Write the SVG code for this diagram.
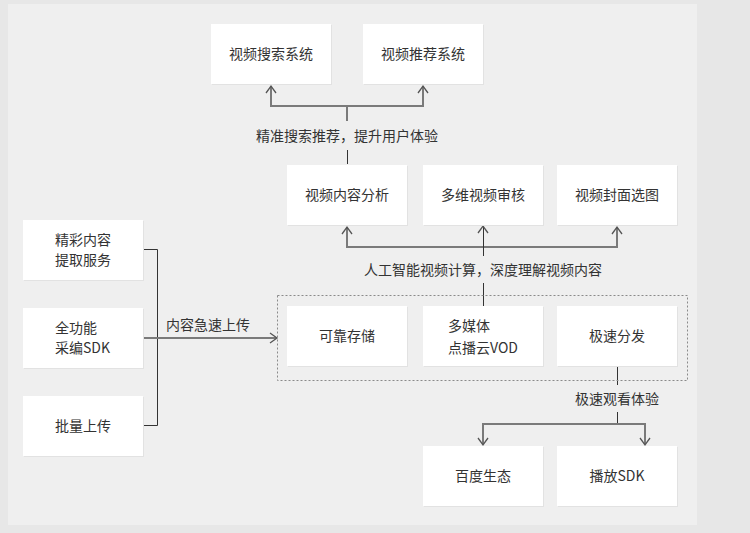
<svg xmlns="http://www.w3.org/2000/svg" width="750" height="533" viewBox="0 0 750 533">
<defs>
<style>
.box{fill:#ffffff;}
.sh{fill:#e2e2e2;}
text{font-family:"Noto Sans CJK SC","Noto Sans",sans-serif;font-size:14px;fill:#333333;}
.c{text-anchor:middle;}
.g{fill:none;stroke:#7a7a7a;stroke-width:2;}
.d{fill:none;stroke:#333333;stroke-width:1;}
.ah{fill:none;stroke:#555555;stroke-width:1.3;}
</style>
</defs>
<rect x="0" y="0" width="750" height="533" fill="#e7e7e7"/>
<rect x="8" y="4" width="689" height="521" fill="#efefef"/>

<g id="connectors">
  <polyline class="g" points="271,86 271,106 423,106 423,86"/>
  <line class="g" x1="347" y1="106" x2="347" y2="121"/>
  <line class="d" x1="347.5" y1="150" x2="347.5" y2="164"/>
  <path class="ah" d="M266,93 L271,86 L276,93 M418,93 L423,86 L428,93"/>
  <polyline class="g" points="347,227 347,247 617,247 617,227"/>
  <line class="d" x1="483.5" y1="226" x2="483.5" y2="256"/>
  <line class="d" x1="483.5" y1="283" x2="483.5" y2="306"/>
  <path class="ah" d="M342,234 L347,227 L352,234 M478,233 L483,226 L488,233 M612,234 L617,227 L622,234"/>
  <polyline class="d" points="143,249.5 157.5,249.5 157.5,425.5 143,425.5"/>
  <line class="g" x1="143" y1="338" x2="276" y2="338"/>
  <path class="ah" d="M270,333 L277,338 L270,343"/>
  <line class="d" x1="617.5" y1="366" x2="617.5" y2="385"/>
  <line class="d" x1="617.5" y1="412" x2="617.5" y2="424"/>
  <polyline class="g" points="483,444 483,424 645,424 645,444"/>
  <path class="ah" d="M478,438 L483,445 L488,438 M640,438 L645,445 L650,438"/>
</g>

<g id="labels">
  <text class="c" x="347" y="141">精准搜索推荐，提升用户体验</text>
  <text class="c" x="483" y="275">人工智能视频计算，深度理解视频内容</text>
  <text class="c" x="208" y="330">内容急速上传</text>
  <text class="c" x="617" y="404">极速观看体验</text>
</g>

<rect id="platform" x="277.5" y="295.5" width="410" height="85" fill="none" stroke="#8a8a8a" stroke-width="1" stroke-dasharray="2,2"/>

<g id="search"><rect class="sh" x="212" y="25" width="120" height="60"/><rect class="box" x="211" y="24" width="120" height="60"/><text class="c" x="271" y="59">视频搜索系统</text></g>
<g id="recommend"><rect class="sh" x="364" y="25" width="120" height="60"/><rect class="box" x="363" y="24" width="120" height="60"/><text class="c" x="423" y="59">视频推荐系统</text></g>

<g id="analysis"><rect class="sh" x="288" y="166" width="120" height="60"/><rect class="box" x="287" y="165" width="120" height="60"/><text class="c" x="347" y="200">视频内容分析</text></g>
<g id="audit"><rect class="sh" x="424" y="166" width="120" height="60"/><rect class="box" x="423" y="165" width="120" height="60"/><text class="c" x="483" y="200">多维视频审核</text></g>
<g id="cover"><rect class="sh" x="558" y="166" width="120" height="60"/><rect class="box" x="557" y="165" width="120" height="60"/><text class="c" x="617" y="200">视频封面选图</text></g>

<g id="storage"><rect class="sh" x="288" y="307" width="120" height="60"/><rect class="box" x="287" y="306" width="120" height="60"/><text class="c" x="347" y="341">可靠存储</text></g>
<g id="vod"><rect class="sh" x="424" y="307" width="120" height="60"/><rect class="box" x="423" y="306" width="120" height="60"/><text x="448" y="331">多媒体</text><text x="448" y="353">点播云VOD</text></g>
<g id="cdn"><rect class="sh" x="558" y="307" width="120" height="60"/><rect class="box" x="557" y="306" width="120" height="60"/><text class="c" x="617" y="341">极速分发</text></g>

<g id="extract"><rect class="sh" x="24" y="221" width="120" height="60"/><rect class="box" x="23" y="220" width="120" height="60"/><text x="55" y="245">精彩内容</text><text x="55" y="265">提取服务</text></g>
<g id="sdk"><rect class="sh" x="24" y="309" width="120" height="60"/><rect class="box" x="23" y="308" width="120" height="60"/><text x="55" y="333">全功能</text><text x="55" y="353">采编SDK</text></g>
<g id="batch"><rect class="sh" x="24" y="397" width="120" height="60"/><rect class="box" x="23" y="396" width="120" height="60"/><text x="55" y="431">批量上传</text></g>

<g id="baidu"><rect class="sh" x="424" y="447" width="120" height="60"/><rect class="box" x="423" y="446" width="120" height="60"/><text class="c" x="483" y="481">百度生态</text></g>
<g id="player"><rect class="sh" x="558" y="447" width="120" height="60"/><rect class="box" x="557" y="446" width="120" height="60"/><text class="c" x="617" y="481">播放SDK</text></g>
</svg>
